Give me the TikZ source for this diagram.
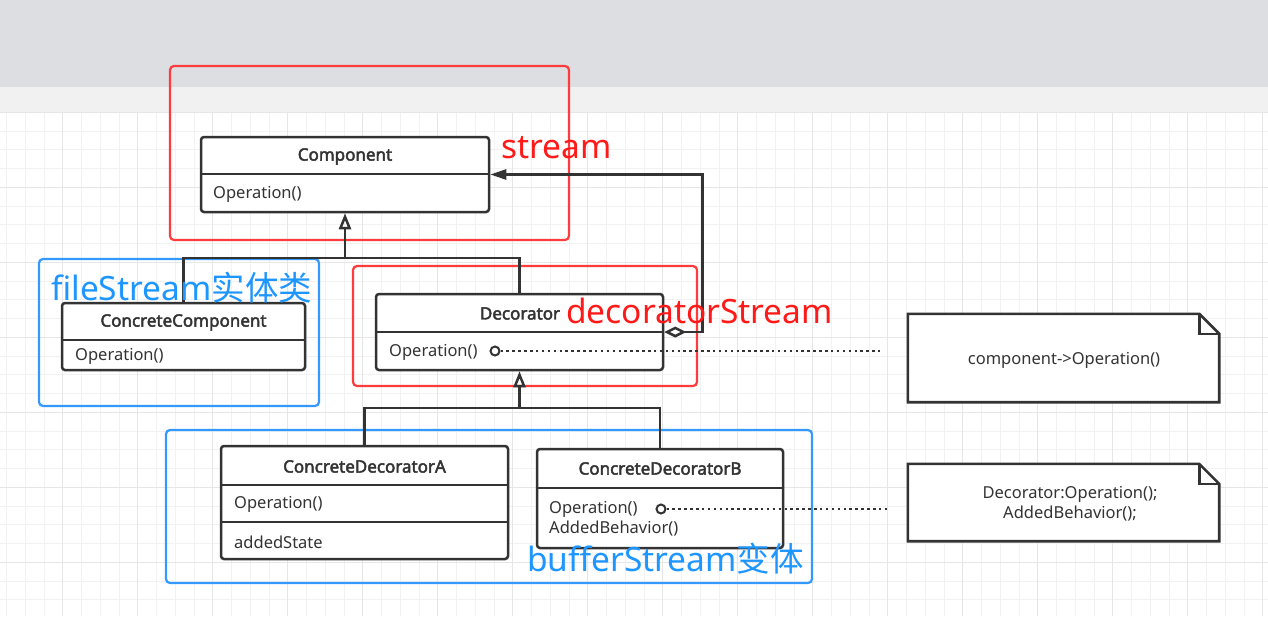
\documentclass[tikz,border=0pt]{standalone}
\usepackage{fontspec}
\setmainfont{Noto Sans}
\newfontfamily\titlefont{Noto Sans}[FakeBold=2.6]
\newfontfamily\cjk{Noto Sans CJK SC}
\usetikzlibrary{arrows.meta,calc}
\definecolor{ink}{HTML}{333333}
\definecolor{topgray}{HTML}{DDDEE2}
\definecolor{bandgray}{HTML}{F1F1F1}
\definecolor{gridminor}{HTML}{F2F2F2}
\definecolor{gridmajor}{HTML}{E6E6E6}
\definecolor{grpred}{HTML}{FF3B3B}
\definecolor{txtred}{HTML}{FF1A1A}
\definecolor{grpblue}{HTML}{3399FF}
\definecolor{txtblue}{HTML}{1E96FF}
\begin{document}
\begin{tikzpicture}[x=1pt,y=-1pt,
  classbox/.style={draw=ink,fill=white,line width=2.5pt,rounded corners=3pt,inner sep=0pt},
  groupred/.style={draw=grpred,line width=2.2pt,rounded corners=4pt,inner sep=0pt},
  groupblue/.style={draw=grpblue,line width=2.2pt,rounded corners=4pt,inner sep=0pt},
  divider/.style={draw=ink,line width=2.5pt},
  title/.style={font=\fontsize{17}{20}\titlefont,text=ink,inner sep=0pt},
  member/.style={font=\fontsize{16.5}{19}\selectfont,text=ink,inner sep=0pt,anchor=west},
  bigred/.style={font=\fontsize{33.5}{40}\selectfont,text=txtred,inner sep=0pt,anchor=west},
  bigblue/.style={font=\fontsize{33.5}{40}\selectfont,text=txtblue,inner sep=0pt,anchor=west},
  notebox/.style={draw=ink,fill=white,line width=2.6pt},
  notetext/.style={font=\fontsize{16.5}{20}\selectfont,text=ink,inner sep=0pt,align=center},
  port/.style={circle,draw=ink,fill=white,line width=2pt,minimum size=9pt,inner sep=0pt},
  dotline/.style={draw=ink,line width=2.5pt,dash pattern=on 2.5pt off 3.4pt},
  inherit/.style={draw=ink,line width=2.5pt,-{Triangle[open,length=16pt,width=12pt]}},
  tree/.style={draw=ink,line width=2.5pt},
  aggr/.style={draw=ink,line width=2.5pt,{Diamond[open,length=22pt,width=11pt]}-{Triangle[length=16pt,width=10pt]}}
]
\useasboundingbox (0,0) rectangle (1268,616);
% background
\fill[topgray] (0,0) rectangle (1268,86.5);
\fill[bandgray] (0,86.5) rectangle (1268,112.3);
\fill[white] (0,112.3) rectangle (1268,616);
\foreach \k in {0,...,67} \draw[gridminor,line width=1pt] ({6.7+18.75*\k},112.3) -- ({6.7+18.75*\k},616);
\foreach \k in {0,...,26} \draw[gridminor,line width=1pt] (0,{112.3+18.75*\k}) -- (1268,{112.3+18.75*\k});
\foreach \k in {0,...,16} \draw[gridmajor,line width=1.2pt] ({62.7+75*\k},112.3) -- ({62.7+75*\k},616);
\foreach \k in {0,...,6} \draw[gridmajor,line width=1.2pt] (0,{112.3+75*\k}) -- (1268,{112.3+75*\k});

% group boxes
\node[groupred,minimum width=399pt,minimum height=174pt] (gstream) at (369.5,153) {};
\node[groupblue,minimum width=280pt,minimum height=147pt] (gfile) at (179,332.5) {};
\node[groupred,minimum width=344pt,minimum height=120pt] (gdec) at (525,326) {};
\node[groupblue,minimum width=646pt,minimum height=153pt] (gbuf) at (489,506.5) {};

% classes
\node[classbox,minimum width=288pt,minimum height=75pt] (comp) at (345,174.5) {};
\draw[divider] (201,174) -- (489,174);
\node[title] (compT) at (345,156.5) {Component};
\node[member] (compO) at (213,194) {Operation()};

\node[classbox,minimum width=243pt,minimum height=67pt] (ccomp) at (183.5,336.5) {};
\draw[divider] (62,340) -- (305,340);
\node[title] (ccompT) at (183.5,322.5) {ConcreteComponent};
\node[member] (ccompO) at (75,356) {Operation()};

\node[classbox,minimum width=287pt,minimum height=76pt] (dec) at (519.5,332) {};
\draw[divider] (376,332) -- (663,332);
\node[title] (decT) at (520,313.5) {Decorator};
\node[member] (decO) at (389,352) {Operation()};

\node[classbox,minimum width=287pt,minimum height=113pt] (cda) at (364.5,502.5) {};
\draw[divider] (221,485) -- (508,485);
\draw[divider] (221,522) -- (508,522);
\node[title] (cdaT) at (364.5,466.5) {ConcreteDecoratorA};
\node[member] (cdaO) at (234,504) {Operation()};
\node[member] (cdaS) at (234,542) {addedState};

\node[classbox,minimum width=246pt,minimum height=99pt] (cdb) at (660,498.5) {};
\draw[divider] (537,488) -- (783,488);
\node[title] (cdbT) at (660,468.5) {ConcreteDecoratorB};
\node[member] (cdbO) at (549,509) {Operation()};
\node[member] (cdbA) at (549,529) {AddedBehavior()};

% notes
\node[minimum width=311pt,minimum height=88pt,inner sep=0pt] (n1) at (1063.5,358) {};
\draw[notebox] (n1.north west) -- ([xshift=-20pt]n1.north east) -- ([yshift=-20pt]n1.north east) -- (n1.south east) -- (n1.south west) -- cycle;
\draw[notebox,fill=none] ([xshift=-20pt]n1.north east) |- ([yshift=-20pt]n1.north east);
\node[notetext] (n1t) at (1064,360) {component->Operation()};

\node[minimum width=311pt,minimum height=77pt,inner sep=0pt] (n2) at (1063.5,502.5) {};
\draw[notebox] (n2.north west) -- ([xshift=-20pt]n2.north east) -- ([yshift=-20pt]n2.north east) -- (n2.south east) -- (n2.south west) -- cycle;
\draw[notebox,fill=none] ([xshift=-20pt]n2.north east) |- ([yshift=-20pt]n2.north east);
\node[notetext] (n2t) at (1070,504) {Decorator:Operation();\\AddedBehavior();};

% connectors
\coordinate (j1) at (345,258);
\draw[tree] (ccomp.north) |- (j1) -| (dec.north);
\draw[inherit] (j1) -- (comp.south);
\coordinate (j2) at (519.5,408);
\draw[tree] (cda.north) |- (j2) -| (cdb.north);
\draw[inherit] (j2) -- (dec.south);
\draw[aggr] (dec.east) -- ++(38,0) |- (comp.east);

\node[port] (p1) at (495,351) {};
\coordinate (e1) at (880,351);
\draw[dotline] (p1) -- (e1);
\node[port] (p2) at (661,509) {};
\coordinate (e2) at (888,509);
\draw[dotline] (p2) -- (e2);

% labels
\node[bigred] (lstream) at (501,148) {stream};
\node[bigred] (ldec) at (566,311) {decoratorStream};
\node[bigblue] (lfile) at (51,288) {fileStream{\cjk 实体类}};
\node[bigblue] (lbuf) at (527,559) {bufferStream{\cjk 变体}};
\end{tikzpicture}
\end{document}
